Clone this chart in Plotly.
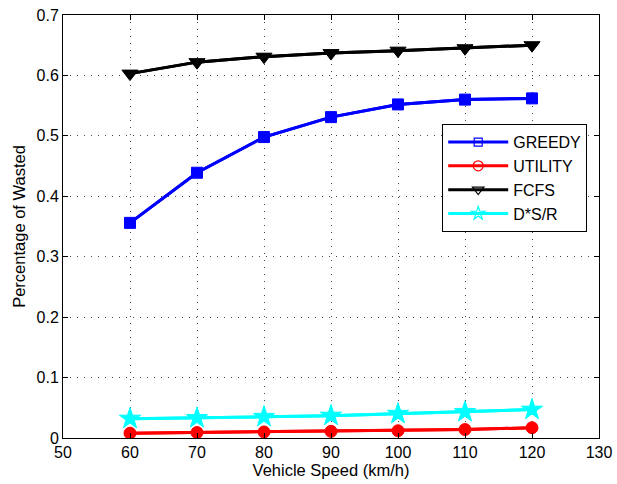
import plotly.graph_objects as go

speeds = [60, 70, 80, 90, 100, 110, 120]
greedy = [0.356, 0.439, 0.498, 0.531, 0.552, 0.560, 0.562]
utility = [0.008, 0.009, 0.010, 0.011, 0.012, 0.014, 0.017]
fcfs = [0.603, 0.622, 0.631, 0.637, 0.641, 0.645, 0.650]
dsr = [0.032, 0.033, 0.035, 0.037, 0.040, 0.043, 0.047]

x_ticks = [50, 60, 70, 80, 90, 100, 110, 120, 130]
y_ticks = [0, 0.1, 0.2, 0.3, 0.4, 0.5, 0.6, 0.7]
y_labels = ["0", "0.1", "0.2", "0.3", "0.4", "0.5", "0.6", "0.7"]

series = [
    ("GREEDY", greedy, "#0000ff", "square", 11, 8),
    ("UTILITY", utility, "#ff0000", "circle", 12, 10),
    ("FCFS", fcfs, "#000000", "triangle-down", 14, 10),
    ("D*S/R", dsr, "#00ffff", "star", 16, 10),
]

FONT = "Liberation Sans, Arial"

fig = go.Figure()
# legend entries: open markers (drawn underneath, fully covered by the filled ones)
for name, vals, color, sym, size, lsize in series:
    fig.add_trace(go.Scatter(
        x=speeds, y=vals, name=name, mode="lines+markers",
        line=dict(color=color, width=3),
        marker=dict(symbol=sym + "-open", size=lsize, color=color, line=dict(color=color, width=1.2)),
    ))
# plotted marks: filled markers
for name, vals, color, sym, size, lsize in series:
    fig.add_trace(go.Scatter(
        x=speeds, y=vals, name=name, mode="lines+markers", showlegend=False,
        line=dict(color=color, width=3),
        marker=dict(symbol=sym, size=size, color=color, line=dict(color=color, width=1)),
    ))

axis_common = dict(
    showline=True, linecolor="black", linewidth=1, mirror="ticks",
    ticks="inside", ticklen=5, tickcolor="black",
    showgrid=True, gridcolor="#444444", griddash="1px,6px", gridwidth=1,
    zeroline=False, automargin=False,
    tickfont=dict(family=FONT, size=16, color="black"),
)

fig.update_xaxes(range=[50, 130], tickvals=x_ticks, ticktext=[str(v) for v in x_ticks],
                 title=dict(text="Vehicle Speed (km/h)", font=dict(family=FONT, size=16.5, color="black"), standoff=4),
                 **axis_common)
fig.update_yaxes(range=[0, 0.7], tickvals=y_ticks, ticktext=y_labels,
                 title=dict(text="Percentage of Wasted", font=dict(family=FONT, size=16.5, color="black"), standoff=6),
                 **axis_common)

fig.update_layout(
    width=617, height=484,
    margin=dict(l=63, r=18, t=15, b=46),
    plot_bgcolor="white", paper_bgcolor="white",
    font=dict(family=FONT, size=16, color="black"),
    legend=dict(
        x=0.978, y=0.742, xanchor="right", yanchor="top",
        bgcolor="white", bordercolor="black", borderwidth=1,
        font=dict(family=FONT, size=16, color="black"),
        itemwidth=60, tracegroupgap=1,
    ),
)

fig.write_html(
    "out.html",
    config={"displayModeBar": False},
    post_script="document.body.style.margin='0';document.body.style.overflow='hidden';",
)
